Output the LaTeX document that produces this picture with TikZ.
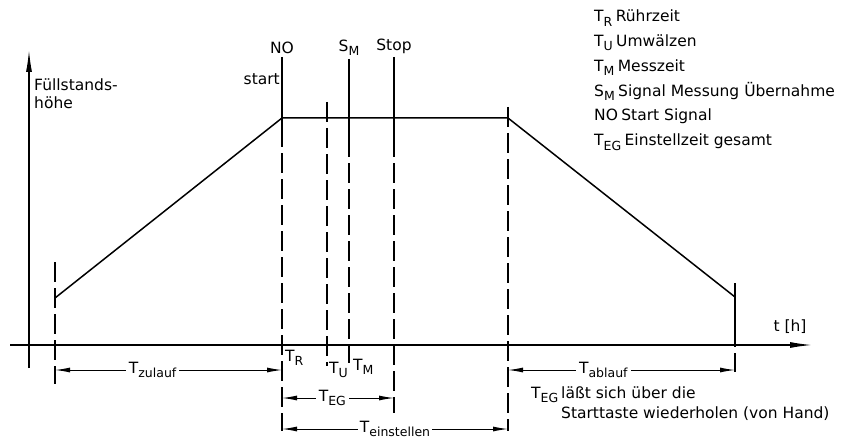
\documentclass[tikz,border=0pt]{standalone}
\usepackage{fontspec}
\setmainfont{DejaVu Sans}
\usetikzlibrary{arrows.meta,calc}
\tikzset{
  axis/.style={
    line width=1.3pt,
    -{Latex[length=22pt,width=6pt]}
  },
  level/.style={
    line width=1.5pt,
    line join=round
  },
  marker/.style={
    line width=1.2pt
  },
  guide/.style={
    line width=1.2pt,
    dash pattern=on 20pt off 6pt
  },
  dimline/.style={
    line width=1pt,
    {Latex[length=15pt,width=5pt]}-{Latex[length=15pt,width=5pt]}
  },
  every picture/.style={
    x=1pt,
    y=-1pt,
    font=\fontsize{15.5}{18}\selectfont
  }
}
\newcommand{\idx}[1]{\raisebox{-0.5ex}{\fontsize{12.5}{13}\selectfont #1}}

\begin{document}
\begin{tikzpicture}
  \useasboundingbox (0,0) rectangle (843,441);
  % axes
  \coordinate (ybot) at (29,368);
  \coordinate (ytop) at (29,50);
  \coordinate (xl) at (10,345);
  \coordinate (xr) at (812,345);
  \draw[axis] (ybot) -- (ytop);
  \draw[axis] (xl) -- (xr);
  \node[anchor=north west,align=left,inner sep=0] (fh) at (34,79) {Füllstands-\\höhe};
  \node (th) at (790,327) {t [h]};

  % level
  \coordinate (p0) at (55,298);
  \coordinate (p1) at (282,118);
  \coordinate (p2) at (508,118);
  \coordinate (p3) at (735,297);
  \draw[level] (p0) -- (p1) -- (p2) -- (p3);

  % signals
  \coordinate (no) at (282,57);
  \coordinate (tu) at (327,102);
  \coordinate (sm) at (349,59);
  \coordinate (stop) at (394,57);
  \draw[marker] (no) --++(0,70);
  \draw[guide] (no)++(0,70) --++(0,304);
  \draw[marker] (sm) --++(0,78);
  \draw[guide] (sm)++(0,78) --++(0,226);
  \draw[marker] (stop) --++(0,80);
  \draw[guide] (stop)++(0,80) --++(0,276);
  \draw[guide] (tu) --++(0,264);
  \draw[guide] (p0)++(0,-36) --++(0,122);
  \draw[guide] (p2)++(0,-11) --++(0,324);
  \draw[marker] (p3)++(0,-14) --++(0,44);
  \draw[guide] (p3)++(0,30) --++(0,45);
  \node[above] (nolab) at (no) {NO};
  \node[anchor=base east,inner sep=1pt] (start) at (281,85) {start};
  \node[above] (smlab) at (sm) {S\idx{M}};
  \node[above] (stoplab) at (stop) {Stop};

  % time spans
  \coordinate (r1) at (0,370);
  \coordinate (r2) at (0,398);
  \coordinate (r3) at (0,429);
  \draw[dimline] (p0 |- r1) -- node[pos=0.43,fill=white,inner sep=3pt] (tzu) {T\idx{zulauf}} (p1 |- r1);
  \draw[dimline] (p2 |- r1) -- node[pos=0.42,fill=white,inner sep=3pt] (tab) {T\idx{ablauf}} (p3 |- r1);
  \draw[dimline] (no |- r2) -- node[pos=0.45,fill=white,inner sep=3pt] (teglab) {T\idx{EG}} (stop |- r2);
  \draw[dimline] (no |- r3) -- node[fill=white,inner sep=2pt] (tein) {T\idx{einstellen}} (p2 |- r3);
  \node[anchor=north west,inner sep=0] (tr) at (285,350) {T\idx{R}};
  \node[anchor=north west,inner sep=0] (tulab) at (329,362) {T\idx{U}};
  \node[anchor=north west,inner sep=0] (tm) at (353,359) {T\idx{M}};

  % note
  \node[anchor=base west,inner sep=0] (teg) at (531,398) {T\idx{EG}};
  \node[anchor=base west,inner sep=0] (note1) at (561,398) {läßt sich über die};
  \node[anchor=base west,inner sep=0] (note2) at (561,418) {Starttaste wiederholen (von Hand)};

  % legend
  \foreach \sym/\txt [count=\i] in {T\idx{R}/Rührzeit, T\idx{U}/Umwälzen, T\idx{M}/Messzeit,
      S\idx{M}/Signal Messung Übernahme, NO/Start Signal, T\idx{EG}/Einstellzeit gesamt}
  {
    \node[anchor=base west,inner sep=0] (sym\i) at (594,24.8*\i-3) {\sym};
    \node[anchor=base west,inner sep=0] (txt\i) at ([xshift=3pt]sym\i.base east) {\txt};
  }
\end{tikzpicture}
\end{document}
